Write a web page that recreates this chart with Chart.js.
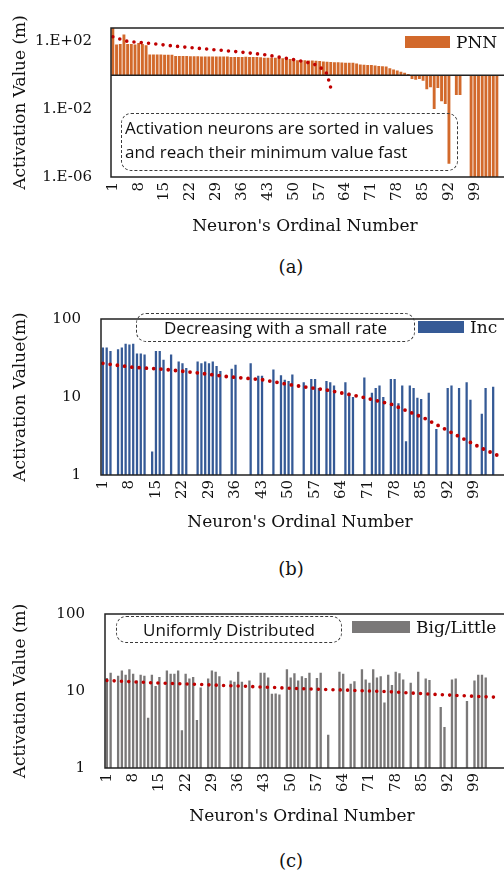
<!DOCTYPE html>
<html>
<head>
<meta charset="utf-8">
<script src="https://cdn.jsdelivr.net/npm/chart.js@4.4.1/dist/chart.umd.min.js"></script>
<style>
  html, body { margin: 0; padding: 0; background: #fff; width: 504px; height: 873px; overflow: hidden; position: relative; }
  canvas { position: absolute; left: 0; }
  .note { position: absolute; box-sizing: border-box; border: 1.3px dashed #3a3a3a; border-radius: 10px;
          font-family: "Open Sans", sans-serif; font-size: 17px; color: #111; white-space: nowrap; }
  .key { position: absolute; font-family: "DejaVu Serif", serif; font-size: 17px; color: #111;
         display: flex; align-items: center; white-space: nowrap; height: 20px; }
  .key i { display: inline-block; height: 12px; margin-right: 6px; }
  .cap { position: absolute; width: 60px; text-align: center; font-family: "DejaVu Serif", serif; font-size: 18px; color: #111; }
</style>
</head>
<body>
<canvas id="pnnChart" width="520" height="245" style="top:0px"></canvas>
<canvas id="incChart" width="520" height="255" style="top:290px"></canvas>
<canvas id="blChart" width="520" height="255" style="top:585px"></canvas>

<div class="note" style="left:121px; top:113px; width:337px; height:58px; padding:2px 0 0 3px; line-height:24px;">Activation neurons are sorted in values<br>and reach their minimum value fast</div>
<div class="key" style="left:405px; top:32px;"><i style="width:45px; background:#D2692B;"></i>PNN</div>
<div class="cap" style="left:261px; top:256px;">(a)</div>

<div class="note" style="left:136px; top:313px; width:279px; height:29px; line-height:27px; text-align:center;">Decreasing with a small rate</div>
<div class="key" style="left:418px; top:317px;"><i style="width:46px; background:#355A96;"></i>Inc</div>
<div class="cap" style="left:261px; top:558px;">(b)</div>

<div class="note" style="left:116px; top:616px; width:226px; height:27px; line-height:25px; text-align:center;">Uniformly Distributed</div>
<div class="key" style="left:352px; top:617px;"><i style="width:58px; background:#7A7878;"></i>Big/Little</div>
<div class="cap" style="left:261px; top:850px;">(c)</div>

<script>
// =============================
// DATA
// =============================
const neuronIds = Array.from({ length: 105 }, (_, i) => String(i + 1));

// (a) PNN - bars hang from 1 on a log axis
const pnnValues = [
  650, 65, 71, 256, 71, 71, 65, 81, 71, 60,
  16.7, 16.7, 16.7, 16.7, 16.5, 16.5, 16.5, 14, 14, 13.8,
  13.8, 13.5, 13.5, 13.5, 13, 13, 13, 13, 13, 13,
  13, 12.8, 12, 12, 12, 12, 12.5, 12, 12, 12,
  11.5, 11, 11, 10.9, 10.9, 10.5, 10, 9.5, 9.2, 8.5,
  7.7, 7.7, 7.7, 7.5, 7.5, 7.2, 7, 6.5, 6.3, 6.2,
  6, 6, 5.8, 5.6, 5.5, 5.5, 5, 4.4, 4.2, 4.1,
  4, 3.8, 3.6, 3.4, 3.3, 2.6, 2.2, 1.9, 1.6, 1.4,
  1.2, 0.6, 0.55, 0.6, 0.48, 0.15, 0.2, 0.0104, 0.18, 0.03,
  0.02, 6e-6, null, 0.07, 0.07, null, null, 1e-7, 1e-7, 1e-7,
  1e-7, 1e-7, 1e-7, 1e-7, 1e-7
];
const pnnTrendAt = [1, 5, 11, 18, 26, 34, 42, 47, 51, 53, 56, 58, 59, 60];
const pnnTrend = [190, 100, 77, 52, 36, 25.5, 16.7, 10.9, 7.7, 6.3, 4.1, 2.2, 1.2, 0.18];
const pnnTicks = [1e-6, 1e-2, 1e2];

// (b) Inc
const incValues = [
  43, 43, 39, null, 41, 43, 48, 47, 48, 36,
  36, 35, null, 2.0, 39, 39, 30, null, 35, null,
  28.5, 27, 23.5, null, null, 28.5, 27, 28.5, 27, 28.5,
  25, 21.5, null, null, 23, 26, null, null, null, 27,
  null, 18.7, 18.7, null, null, 22.5, null, 19, 16.6, 16,
  19.5, null, null, 15.4, null, 17, 17, 13, null, 16,
  15.4, 14, null, null, 15.4, 11.3, 10, null, null, 17.8,
  null, 11.3, 13, 14, 10, null, 17, 17, 8.3, 14,
  2.7, 14, 13, 9.8, 9.4, null, 11.3, null, 3.9, null,
  null, 13, 14, null, 13, null, 15.4, 9.2, null, null,
  6.1, 13, null, 13.5, null
];
const incTrendAt = [1, 9, 17, 26, 34, 43, 51, 60, 69, 77, 86, 94, 101, 105];
const incTrend = [27, 24, 22.7, 20.4, 18.2, 16.7, 14.2, 12.3, 10.1, 8.1, 5.3, 3.3, 2.2, 1.8];

// (c) Big/Little
const blValues = [
  14.7, 17.3, null, 15.8, 18.5, 16.2, 19.2, 16.7, 13.7, 16.2,
  15.8, 4.5, 16.2, 11.6, 15.2, null, 18.5, 16.7, 16.7, 18.5,
  3.1, 16.7, 14.5, 15.2, 4.2, 11.1, null, 14.5, 18.5, 17.8,
  15.6, null, null, 13.7, 13.2, 17.8, 13.2, null, 13.7, null,
  null, 17.3, 17.3, 15, 9.2, 9.3, 9.0, null, 19.2, 15.0,
  17.0, 13.7, 15.5, 14.8, 17.3, null, 14.8, 17.3, null, 2.7,
  null, null, 17.8, 16.7, null, 12.4, 13.4, null, 19.2, 14.1,
  12.8, 19.2, 15.0, 15.6, 7.1, 16.2, 12.0, 17.8, 17.0, 14.1,
  null, 12.8, null, 17.8, null, 14.5, 13.9, null, null, 6.2,
  3.4, null, 14.1, 14.5, null, null, 7.4, null, 13.7, 16.2,
  16.2, 15, null, null, null
];
const blTrendAt = [1, 13, 25, 38, 51, 64, 76, 89, 102, 105];
const blTrend = [13.7, 12.8, 12.2, 11.5, 10.8, 10.3, 9.8, 9.0, 8.4, 8.3];
const decadeTicks = [1, 10, 100];

// =============================
// Shared drawing bits
// =============================
const serif = "'DejaVu Serif', serif";
const ink = '#111';

const frame = {
  id: 'frame',
  afterDatasetsDraw(chart, args, opts) {
    const { ctx, chartArea: a } = chart;
    ctx.save();
    ctx.strokeStyle = '#222';
    ctx.lineWidth = 1.5;
    ctx.beginPath();
    ctx.moveTo(a.right + 10, a.top);
    ctx.lineTo(a.left, a.top);
    ctx.lineTo(a.left, a.bottom);
    ctx.lineTo(a.right + 10, a.bottom);
    if (opts.baseline) {
      const y = chart.scales.y.getPixelForValue(opts.baseline);
      ctx.moveTo(a.left, y);
      ctx.lineTo(a.right + 10, y);
    }
    ctx.stroke();
    ctx.restore();
  }
};

function buildPanel(id, o) {
  return new Chart(document.getElementById(id), {
    data: {
      labels: neuronIds,
      datasets: [
        {
          type: 'line',
          data: o.trendAt.map((c, i) => ({ x: String(c), y: o.trend[i] })),
          borderColor: '#C00000',
          borderWidth: o.dot,
          borderDash: [0, o.gap],
          borderCapStyle: 'round',
          pointRadius: 0,
          tension: 0,
          fill: false,
          order: 0
        },
        {
          type: 'bar',
          data: o.values,
          backgroundColor: o.color,
          base: o.base,
          barPercentage: o.barPct,
          categoryPercentage: 1,
          order: 1
        }
      ]
    },
    options: {
      responsive: false,
      animation: false,
      events: [],
      layout: { padding: { top: o.plotTop, right: 520 - o.plotRight, left: 0, bottom: 0 } },
      plugins: {
        legend: { display: false },
        tooltip: { enabled: false },
        frame: { baseline: o.baseline }
      },
      scales: {
        x: {
          type: 'category',
          grid: { display: false, drawTicks: false },
          border: { display: false },
          ticks: {
            autoSkip: false, maxRotation: 90, minRotation: 90, padding: 5,
            color: ink, font: { family: serif, size: 15 },
            callback: (v, i) => (i % 7 === 0 ? neuronIds[i] : '')
          },
          title: {
            display: true, text: "Neuron's Ordinal Number", color: ink,
            font: { family: serif, size: 17 }, padding: { top: 0, bottom: o.xTitlePad }
          },
          afterFit: s => { s.height = o.xAxisH; }
        },
        y: {
          type: 'logarithmic',
          min: o.min,
          max: o.max,
          grid: { display: false, drawTicks: false },
          border: { display: false },
          afterBuildTicks: s => { s.ticks = o.ticks.map(v => ({ value: v })); },
          ticks: { padding: o.yTickPad, color: ink, font: { family: serif, size: 15 }, callback: o.fmt },
          title: {
            display: true, text: o.yTitle, color: ink,
            font: { family: serif, size: 17 }, padding: { top: 10, bottom: 0 }
          },
          afterFit: s => { s.width = o.plotLeft; }
        }
      }
    },
    plugins: [frame]
  });
}

const sci = v => {
  const e = Math.round(Math.log10(v));
  return '1.E' + (e < 0 ? '-' : '+') + String(Math.abs(e)).padStart(2, '0');
};

// (a)
buildPanel('pnnChart', {
  values: pnnValues, trendAt: pnnTrendAt, trend: pnnTrend, ticks: pnnTicks,
  color: '#D2692B', base: 1, baseline: 1, barPct: 0.78, dot: 3.6, gap: 7.3,
  min: 1e-6, max: 620, fmt: sci, yTitle: 'Activation Value (m)',
  plotTop: 21, plotLeft: 111, plotRight: 512, xAxisH: 68, xTitlePad: 8, yTickPad: 19
});

// (b)
buildPanel('incChart', {
  values: incValues, trendAt: incTrendAt, trend: incTrend, ticks: decadeTicks,
  color: '#355A96', barPct: 0.6, dot: 3.8, gap: 7.3,
  min: 1, max: 100, fmt: v => String(v), yTitle: 'Activation Value(m)',
  plotTop: 20, plotLeft: 101, plotRight: 511, xAxisH: 70, xTitlePad: 12, yTickPad: 20
});

// (c)
buildPanel('blChart', {
  values: blValues, trendAt: blTrendAt, trend: blTrend, ticks: decadeTicks,
  color: '#7A7878', barPct: 0.62, dot: 3.6, gap: 7.3,
  min: 1, max: 100, fmt: v => String(v), yTitle: 'Activation Value (m)',
  plotTop: 21, plotLeft: 105, plotRight: 516, xAxisH: 72, xTitlePad: 13, yTickPad: 20
});
</script>
</body>
</html>
